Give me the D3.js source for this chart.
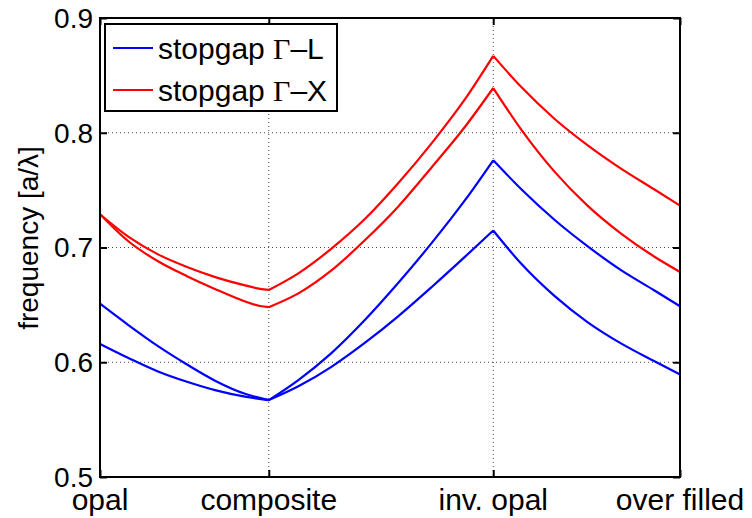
<!DOCTYPE html>
<html>
<head>
<meta charset="utf-8">
<script src="https://cdn.jsdelivr.net/npm/d3@7/dist/d3.min.js"></script>
<style>
  html, body { margin: 0; padding: 0; background: #fff; }
  svg { display: block; font-family: "Liberation Sans", Arial, Helvetica, sans-serif; }
</style>
</head>
<body>
<svg id="chart" width="752" height="518"></svg>
<script>
// ---------- data ----------
const xTickPos    = [0, 0.291, 0.678, 1];
const xTickLabels = ["opal", "composite", "inv. opal", "over filled"];
const yTicks      = [0.5, 0.6, 0.7, 0.8, 0.9];
const yLabel      = "frequency [a/\u03BB]";
const legendNames = ["stopgap ", "stopgap "];
const legendSymbols = ["\u0393", "\u0393"];
const legendSuffix = ["\u2013L", "\u2013X"];

// stopgap Γ-L (blue), upper and lower edges
const glUpperX = [0, 0.05, 0.10, 0.15, 0.20, 0.25, 0.291, 0.342, 0.399, 0.457, 0.514, 0.572, 0.629, 0.678, 0.726, 0.784, 0.841, 0.899, 0.956, 1];
const glUpperY = [0.651, 0.632, 0.614, 0.598, 0.5835, 0.5725, 0.567, 0.5845, 0.608, 0.637, 0.669, 0.704, 0.741, 0.776, 0.751, 0.724, 0.701, 0.680, 0.6625, 0.6488];
const glLowerX = [0, 0.05, 0.10, 0.15, 0.20, 0.25, 0.291, 0.342, 0.399, 0.457, 0.514, 0.572, 0.629, 0.678, 0.726, 0.784, 0.841, 0.899, 0.956, 1];
const glLowerY = [0.616, 0.6035, 0.592, 0.583, 0.5755, 0.570, 0.567, 0.579, 0.596, 0.617, 0.640, 0.6656, 0.6918, 0.7148, 0.686, 0.6576, 0.6348, 0.6162, 0.6008, 0.5894];

// stopgap Γ-X (red), upper and lower edges
const gxUpperX = [0, 0.05, 0.10, 0.15, 0.20, 0.25, 0.276, 0.291, 0.342, 0.399, 0.457, 0.514, 0.572, 0.629, 0.678, 0.726, 0.784, 0.841, 0.899, 0.956, 1];
const gxUpperY = [0.729, 0.709, 0.694, 0.683, 0.674, 0.667, 0.664, 0.663, 0.6775, 0.699, 0.725, 0.756, 0.791, 0.829, 0.867, 0.840, 0.812, 0.789, 0.7685, 0.7505, 0.7365];
const gxLowerX = [0, 0.05, 0.10, 0.15, 0.20, 0.25, 0.276, 0.291, 0.342, 0.399, 0.457, 0.514, 0.572, 0.629, 0.678, 0.726, 0.784, 0.841, 0.899, 0.956, 1];
const gxLowerY = [0.729, 0.705, 0.688, 0.675, 0.6635, 0.653, 0.649, 0.648, 0.660, 0.680, 0.7065, 0.7356, 0.770, 0.805, 0.839, 0.803, 0.7659, 0.7363, 0.7119, 0.6919, 0.6787];

const series = [
  { xs: glUpperX, ys: glUpperY, color: "#0000ff" },
  { xs: glLowerX, ys: glLowerY, color: "#0000ff" },
  { xs: gxUpperX, ys: gxUpperY, color: "#ff0000" },
  { xs: gxLowerX, ys: gxLowerY, color: "#ff0000" }
];
const legendColors = ["#0000ff", "#ff0000"];

// ---------- layout ----------
const L = 100, R = 680, T = 18, B = 477;
const svg = d3.select("#chart");
const x = d3.scaleLinear().domain([0, 1]).range([L, R]);
const y = d3.scaleLinear().domain([0.5, 0.9]).range([B, T]);

// grid
const grid = svg.append("g");
grid.selectAll("line.gx").data(xTickPos.slice(1, -1)).enter().append("line")
  .attr("x1", d => x(d)).attr("x2", d => x(d)).attr("y1", T).attr("y2", B)
  .attr("stroke", "#444").attr("stroke-width", 1).attr("stroke-dasharray", "1,3");
grid.selectAll("line.gy").data(yTicks.slice(1, -1)).enter().append("line")
  .attr("x1", L).attr("x2", R).attr("y1", d => y(d)).attr("y2", d => y(d))
  .attr("stroke", "#444").attr("stroke-width", 1).attr("stroke-dasharray", "1,3");

// curves (split at the kink positions so the peaks stay sharp)
const line = d3.line().x(d => x(d[0])).y(d => y(d[1])).curve(d3.curveMonotoneX);
const kinks = xTickPos.slice(1, -1);
series.forEach(s => {
  const pts = s.xs.map((v, i) => [v, s.ys[i]]);
  const segs = [];
  let cur = [];
  pts.forEach(p => {
    cur.push(p);
    if (kinks.includes(p[0])) { segs.push(cur); cur = [p]; }
  });
  if (cur.length > 1) segs.push(cur);
  const d = segs.map(sg => line(sg)).join("");
  svg.append("path").attr("d", d).attr("fill", "none")
    .attr("stroke", s.color).attr("stroke-width", 2.2).attr("stroke-linejoin", "miter");
});

// axes with inward ticks on all sides
const tickLen = 7;
const axBottom = d3.axisBottom(x).tickValues(xTickPos).tickSize(-tickLen).tickFormat("");
const axTop = d3.axisTop(x).tickValues(xTickPos).tickSize(-tickLen).tickFormat("");
const axLeft = d3.axisLeft(y).tickValues(yTicks).tickSize(-tickLen).tickFormat("");
const axRight = d3.axisRight(y).tickValues(yTicks).tickSize(-tickLen).tickFormat("");
[[axBottom, `translate(0,${B})`], [axTop, `translate(0,${T})`],
 [axLeft, `translate(${L},0)`], [axRight, `translate(${R},0)`]].forEach(([ax, tr]) => {
  const g = svg.append("g").attr("transform", tr).call(ax);
  g.select(".domain").remove();
  g.selectAll(".tick line").attr("stroke", "#000").attr("stroke-width", 2);
});
svg.append("rect").attr("x", L).attr("y", T).attr("width", R - L).attr("height", B - T)
  .attr("fill", "none").attr("stroke", "#000").attr("stroke-width", 2);

// tick labels
svg.selectAll("text.yt").data(yTicks).enter().append("text")
  .attr("x", L - 7).attr("y", d => y(d)).attr("dy", "0.35em")
  .attr("text-anchor", "end").attr("font-size", 28).attr("fill", "#000")
  .text(d => d3.format(".1f")(d));
svg.selectAll("text.xt").data(xTickPos).enter().append("text")
  .attr("x", d => x(d)).attr("y", 510)
  .attr("text-anchor", "middle").attr("font-size", 30).attr("fill", "#000")
  .text((d, i) => xTickLabels[i]);

// y label
svg.append("text").attr("transform", `translate(38,238) rotate(-90)`)
  .attr("text-anchor", "middle").attr("font-size", 28).attr("fill", "#000")
  .text(yLabel);

// legend
const lg = svg.append("g");
lg.append("rect").attr("x", 105).attr("y", 24).attr("width", 232).attr("height", 87)
  .attr("fill", "#fff").attr("stroke", "#000").attr("stroke-width", 2);
legendNames.forEach((nm, i) => {
  const cy = 48 + i * 42;
  lg.append("line").attr("x1", 113).attr("x2", 153).attr("y1", cy).attr("y2", cy)
    .attr("stroke", legendColors[i]).attr("stroke-width", 2.2);
  const t = lg.append("text").attr("x", 158).attr("y", cy + 11).attr("font-size", 30).attr("fill", "#000");
  t.append("tspan").text(nm);
  t.append("tspan").attr("font-family", "'Liberation Serif', 'DejaVu Serif', serif").text(legendSymbols[i]);
  t.append("tspan").text(legendSuffix[i]);
});
</script>
</body>
</html>
